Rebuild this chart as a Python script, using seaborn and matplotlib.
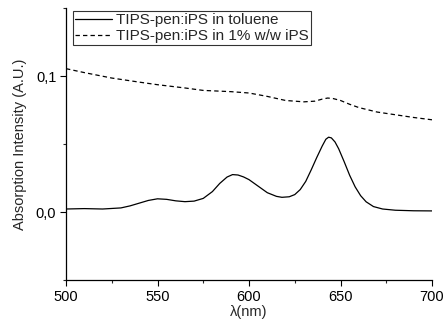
import matplotlib
matplotlib.use("Agg")
import matplotlib.pyplot as plt
import seaborn as sns
import pandas as pd
from matplotlib.ticker import MultipleLocator, FuncFormatter

# --- data ---
wl_toluene = [500, 510, 520, 530, 535, 540, 545, 550, 555, 560, 565, 570, 575, 580, 584, 588, 591,
              594, 597, 600, 605, 610, 615, 618, 622, 625, 628, 631, 634, 637, 640, 642, 643.5,
              645, 647, 649, 652, 655, 658, 661, 664, 668, 673, 680, 690, 700]
abs_toluene = [0.0022, 0.0025, 0.0022, 0.0030, 0.0045, 0.0065, 0.0085, 0.0097, 0.0093, 0.0082,
               0.0076, 0.0080, 0.0100, 0.0150, 0.0210, 0.0257, 0.0275, 0.0272, 0.0258, 0.0238,
               0.0190, 0.0142, 0.0115, 0.0108, 0.0112, 0.0128, 0.0165, 0.0225, 0.0310, 0.0400,
               0.0485, 0.0535, 0.0550, 0.0545, 0.0515, 0.0465, 0.0370, 0.0270, 0.0185, 0.0120,
               0.0075, 0.0040, 0.0022, 0.0013, 0.0009, 0.0008]

wl_film = [500, 510, 525, 540, 550, 565, 575, 590, 600, 610, 620, 630, 636, 640, 643, 646, 650,
           655, 660, 670, 680, 690, 700]
abs_film = [0.1054, 0.1025, 0.0985, 0.0955, 0.0936, 0.0912, 0.0894, 0.0885, 0.0875, 0.0850, 0.0820,
            0.0810, 0.0815, 0.0830, 0.0838, 0.0834, 0.0820, 0.0792, 0.0768, 0.0735, 0.0715, 0.0695,
            0.0678]

labels = ["TIPS-pen:iPS in toluene", "TIPS-pen:iPS in 1% w/w iPS"]

df = pd.concat([
    pd.DataFrame({"wl": wl_toluene, "abs": abs_toluene, "series": labels[0]}),
    pd.DataFrame({"wl": wl_film, "abs": abs_film, "series": labels[1]}),
])

sns.set_style("ticks")
plt.rcParams["font.family"] = ["Liberation Sans", "DejaVu Sans"]

fig = plt.figure(figsize=(4.46, 3.24), dpi=100)
ax = fig.add_axes([66/446, (324-280)/324, (432-66)/446, (280-8)/324])

sns.lineplot(data=df, x="wl", y="abs", hue="series", style="series",
             palette={labels[0]: "black", labels[1]: "black"},
             dashes={labels[0]: "", labels[1]: (3.5, 2.5)},
             linewidth=0.9, ax=ax, sort=False, estimator=None)

ax.set_xlim(500, 700)
ax.set_ylim(-0.05, 0.15)
ax.xaxis.set_major_locator(MultipleLocator(50))
ax.xaxis.set_minor_locator(MultipleLocator(25))
ax.yaxis.set_major_locator(MultipleLocator(0.1))
ax.yaxis.set_minor_locator(MultipleLocator(0.05))
ax.yaxis.set_major_formatter(FuncFormatter(lambda v, p: f"{v:.1f}".replace(".", ",")))
ax.tick_params(which="major", direction="out", length=4, width=0.8, labelsize=10.5, colors="black", pad=3)
ax.tick_params(which="minor", direction="out", length=2, width=0.8)
for s in ["top", "right"]:
    ax.spines[s].set_visible(False)
for s in ["left", "bottom"]:
    ax.spines[s].set_color("black")
    ax.spines[s].set_linewidth(0.9)

ax.set_xlabel("λ(nm)", fontsize=10.5, labelpad=1)
ax.set_ylabel("Absorption Intensity (A.U.)", fontsize=10.5, labelpad=6)

leg = ax.legend(loc="upper left", bbox_to_anchor=(0.01, 1.0), frameon=True, fancybox=False,
                edgecolor="black", fontsize=11, handlelength=2.4, borderpad=0.15,
                labelspacing=0.12, handletextpad=0.3, borderaxespad=0.2, title=None)
leg.get_frame().set_linewidth(0.8)

fig.savefig("out.png", dpi=100)
